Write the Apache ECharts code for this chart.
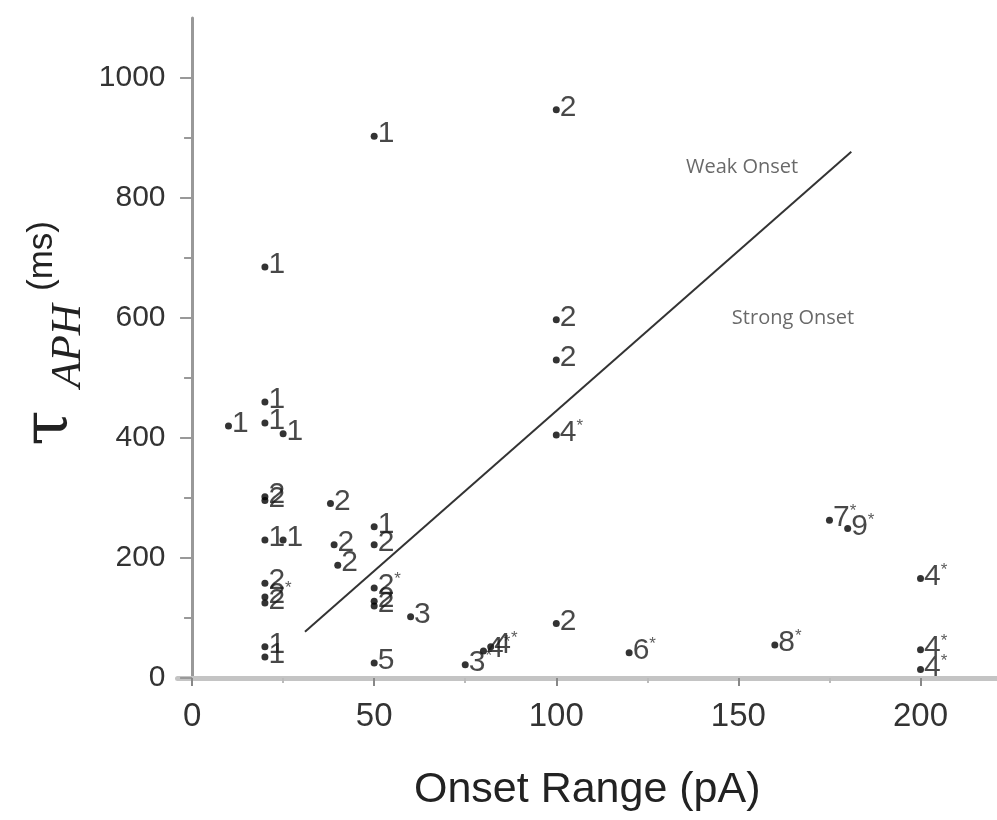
<!DOCTYPE html>
<html>
<head>
<meta charset="utf-8">
<script src="https://cdn.jsdelivr.net/npm/echarts@6/dist/echarts.min.js"></script>
<style>
html,body{margin:0;padding:0;background:#fff;overflow:hidden;}
#chart{width:997px;height:820px;}
</style>
</head>
<body>
<div id="chart"></div>
<script>
// ---- data ----
const onsetRange = [10,20,20,20,20,20,20,20,20,20,20,20,25,25,38,39,40,50,50,50,50,50,50,50,60,75,80,82,100,100,100,100,100,120,160,175,180,200,200,200];
const tauAPH     = [420,685,460,425,302,296,230,158,135,125,52,35,407,230,291,222,188,903,252,222,150,128,120,25,102,22,45,52,947,597,530,405,91,42,55,263,249,166,47,14];
const pointTags  = ["1","1","1","1","2","2","1","2","2*","2","1","1","1","1","2","2","2","1","1","2","2*","2","2","5","3","3*","4*","4*","2","2","2","4*","2","6*","8*","7*","9*","4*","4*","4*"];
const dividerX = [31, 181];
const dividerY = [77, 877];
const xMajorTicks = [0,50,100,150,200];
const xMinorTicks = [25,75,125,175];
const yMajorTicks = [0,200,400,600,800,1000];
const yMinorTicks = [100,300,500,700,900];
const regionNames = ["Weak Onset","Strong Onset"];
const regionX = [151,165];
const regionY = [852,600];

const chart = echarts.init(document.getElementById('chart'));

const pts = onsetRange.map((x,i)=>[x, tauAPH[i], i]);
const lineData = dividerX.map((x,i)=>[x, dividerY[i]]);
const regionData = regionNames.map((n,i)=>[regionX[i], regionY[i], i]);

const XMIN=-4, XMAX=221, YMIN=0, YMAX=1100;

const option = {
  backgroundColor:'#fff',
  animation:false,
  grid:{left:177.5, right:0, top:18, bottom:142, outerBoundsMode:'none', containLabel:false},
  xAxis:[{
    type:'value', min:XMIN, max:XMAX,
    splitLine:{show:false},
    axisLine:{onZero:false, lineStyle:{color:'#c4c4c4', width:5}},
    axisTick:{customValues:xMajorTicks, length:8, lineStyle:{color:'#888', width:2}},
    axisLabel:{customValues:xMajorTicks, margin:22, fontSize:33, color:'#333', fontFamily:'Liberation Sans, Arial, sans-serif'},
    name:'Onset Range (pA)', nameLocation:'middle', nameGap:91,
    nameTextStyle:{fontSize:43, color:'#222', fontFamily:'Liberation Sans, Arial, sans-serif'}
  },{
    type:'value', min:XMIN, max:XMAX, position:'bottom',
    splitLine:{show:false},
    axisLine:{show:false, onZero:false},
    axisTick:{customValues:xMinorTicks, length:5, lineStyle:{color:'#bbb', width:2}},
    axisLabel:{show:false}
  }],
  yAxis:[{
    type:'value', min:YMIN, max:YMAX,
    splitLine:{show:false},
    axisLine:{onZero:true, lineStyle:{color:'#999', width:3}},
    axisTick:{customValues:yMajorTicks, length:12, lineStyle:{color:'#999', width:2}},
    axisLabel:{customValues:yMajorTicks, margin:12, fontSize:30, color:'#333', fontFamily:'Liberation Sans, Arial, sans-serif',
      formatter:(v)=>String(v)}
  },{
    type:'value', min:YMIN, max:YMAX, position:'left',
    splitLine:{show:false},
    axisLine:{show:false, onZero:true},
    axisTick:{customValues:yMinorTicks, length:8, lineStyle:{color:'#999', width:2}},
    axisLabel:{show:false}
  }],
  series:[{
    type:'line', data:lineData, symbol:'none', silent:true,
    lineStyle:{color:'#333', width:2}
  },{
    type:'scatter', data:pts, symbol:'circle', symbolSize:7,
    itemStyle:{color:'#000'},
    label:{
      show:true, position:'right', distance:0, offset:[0,-2],
      formatter:(p)=>{
        const t = pointTags[p.value[2]];
        const d = t.replace('*','');
        return '{d|'+d+'}' + (t.indexOf('*')>=0 ? '{s|*}' : '');
      },
      rich:{
        d:{fontSize:30, color:'#1a1a1a', fontFamily:'Liberation Sans, Arial, sans-serif', lineHeight:30},
        s:{fontSize:17, color:'#333', fontFamily:'Liberation Sans, Arial, sans-serif', verticalAlign:'top', lineHeight:30, padding:[0,0,12,0]}
      }
    }
  },{
    type:'scatter', data:regionData, symbolSize:0, silent:true,
    label:{
      show:true, position:'inside',
      formatter:(p)=>regionNames[p.value[2]],
      fontSize:20, color:'#444', fontFamily:'Open Sans, Lato, sans-serif'
    }
  }],
  graphic:[{
    type:'group', x:50, y:428, rotation:Math.PI/2,
    children:[
      {type:'text', x:0, y:0, style:{text:'τ', fontSize:64, fontFamily:'DejaVu Serif, serif', fill:'#222', align:'center', verticalAlign:'middle'}},
      {type:'text', x:82, y:19, style:{text:'APH', fontSize:43, fontStyle:'italic', fontFamily:'Liberation Serif, serif', fill:'#222', align:'center', verticalAlign:'middle'}},
      {type:'text', x:172, y:-8, style:{text:'(ms)', fontSize:35, fontFamily:'Liberation Sans, Arial, sans-serif', fill:'#222', align:'center', verticalAlign:'middle'}}
    ]
  }]
};
chart.setOption(option);
</script>
</body>
</html>
